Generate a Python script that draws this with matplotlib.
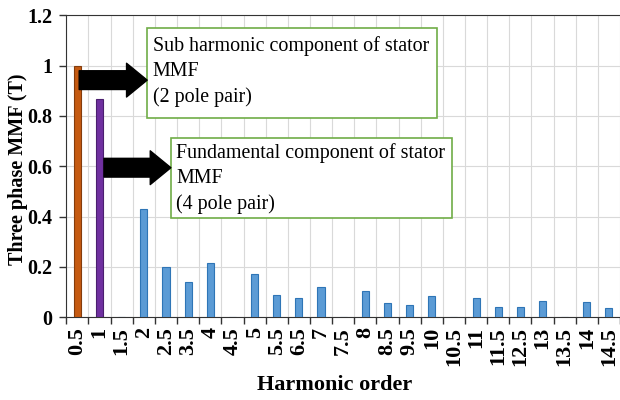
import matplotlib.pyplot as plt
from matplotlib.patches import Rectangle

# Harmonic orders (triplen ones are absent) and MMF amplitudes
orders = ['0.5', '1', '1.5', '2', '2.5', '3.5', '4', '4.5', '5', '5.5', '6.5', '7',
          '7.5', '8', '8.5', '9.5', '10', '10.5', '11', '11.5', '12.5', '13', '13.5',
          '14', '14.5']
mmf = [1.0, 0.868, 0.0, 0.43, 0.2, 0.14, 0.215, 0.0, 0.17, 0.09, 0.075, 0.12,
       0.0, 0.105, 0.055, 0.05, 0.085, 0.0, 0.075, 0.04, 0.04, 0.065, 0.0,
       0.06, 0.035]
bar_colors = ['#C55A11', '#7030A0'] + ['#5B9BD5'] * (len(orders) - 2)
edge_colors = ['#843C0C', '#4B1F6F'] + ['#2E75B6'] * (len(orders) - 2)

plt.rcParams['font.family'] = ['Liberation Serif', 'DejaVu Serif']

fig = plt.figure(figsize=(6.2, 4), dpi=100)
ax = fig.add_axes([0.107, 0.207, 0.893, 0.755])

x = list(range(len(orders)))
ax.bar(x, mmf, width=0.32, color=bar_colors, edgecolor=edge_colors, linewidth=0.8, zorder=3)

# Axes, grid and ticks
ax.set_xlim(-0.5, len(orders) - 0.5)
ax.set_ylim(0, 1.2)
ax.set_yticks([0, 0.2, 0.4, 0.6, 0.8, 1, 1.2])
ax.set_yticklabels(['0', '0.2', '0.4', '0.6', '0.8', '1', '1.2'], fontweight='bold', fontsize=14.5)
ax.set_xticks(x)
ax.set_xticklabels(orders, rotation=90, fontweight='bold', fontsize=16)
ax.set_xticks([i - 0.5 for i in range(len(orders) + 1)], minor=True)
ax.tick_params(axis='x', which='major', length=0, pad=7)
ax.tick_params(axis='x', which='minor', length=5, width=1, color='#333333')
ax.tick_params(axis='y', length=5, width=1, color='#333333', pad=5)
ax.grid(axis='y', which='major', color='#d9d9d9', linewidth=0.8, zorder=0)
ax.grid(axis='x', which='minor', color='#d9d9d9', linewidth=0.8, zorder=0)
ax.spines['right'].set_visible(False)
for s in ['top', 'left', 'bottom']:
    ax.spines[s].set_color('#333333')

ax.set_ylabel('Three phase MMF (T)', fontweight='bold', fontsize=14.5)
ax.yaxis.set_label_coords(-0.07, 0.49)
ax.set_xlabel('Harmonic order', fontweight='bold', fontsize=16)
ax.xaxis.set_label_coords(0.484, -0.19)

# Annotation boxes with arrows
arrow_style = 'simple,head_width=0.9,head_length=0.55,tail_width=0.5'

ax.add_patch(Rectangle((3.15, 0.79), 13.1, 0.36, fill=True, facecolor='white',
                       edgecolor='#70AD47', linewidth=1.2, zorder=4))
ax.text(3.4, 1.115, 'Sub harmonic component of stator\nMMF\n(2 pole pair)',
        fontsize=14.4, va='top', ha='left', linespacing=1.4, zorder=5)
ax.annotate('', xy=(3.15, 0.942), xytext=(0.08, 0.942),
            arrowprops=dict(arrowstyle=arrow_style, color='black', mutation_scale=27,
                            shrinkA=0, shrinkB=0), zorder=5)

ax.add_patch(Rectangle((4.22, 0.393), 12.7, 0.318, fill=True, facecolor='white',
                       edgecolor='#70AD47', linewidth=1.2, zorder=4))
ax.text(4.45, 0.69, 'Fundamental component of stator\nMMF\n(4 pole pair)',
        fontsize=14.4, va='top', ha='left', linespacing=1.4, zorder=5)
ax.annotate('', xy=(4.22, 0.594), xytext=(1.2, 0.594),
            arrowprops=dict(arrowstyle=arrow_style, color='black', mutation_scale=27,
                            shrinkA=0, shrinkB=0), zorder=5)

plt.savefig('out.png')
